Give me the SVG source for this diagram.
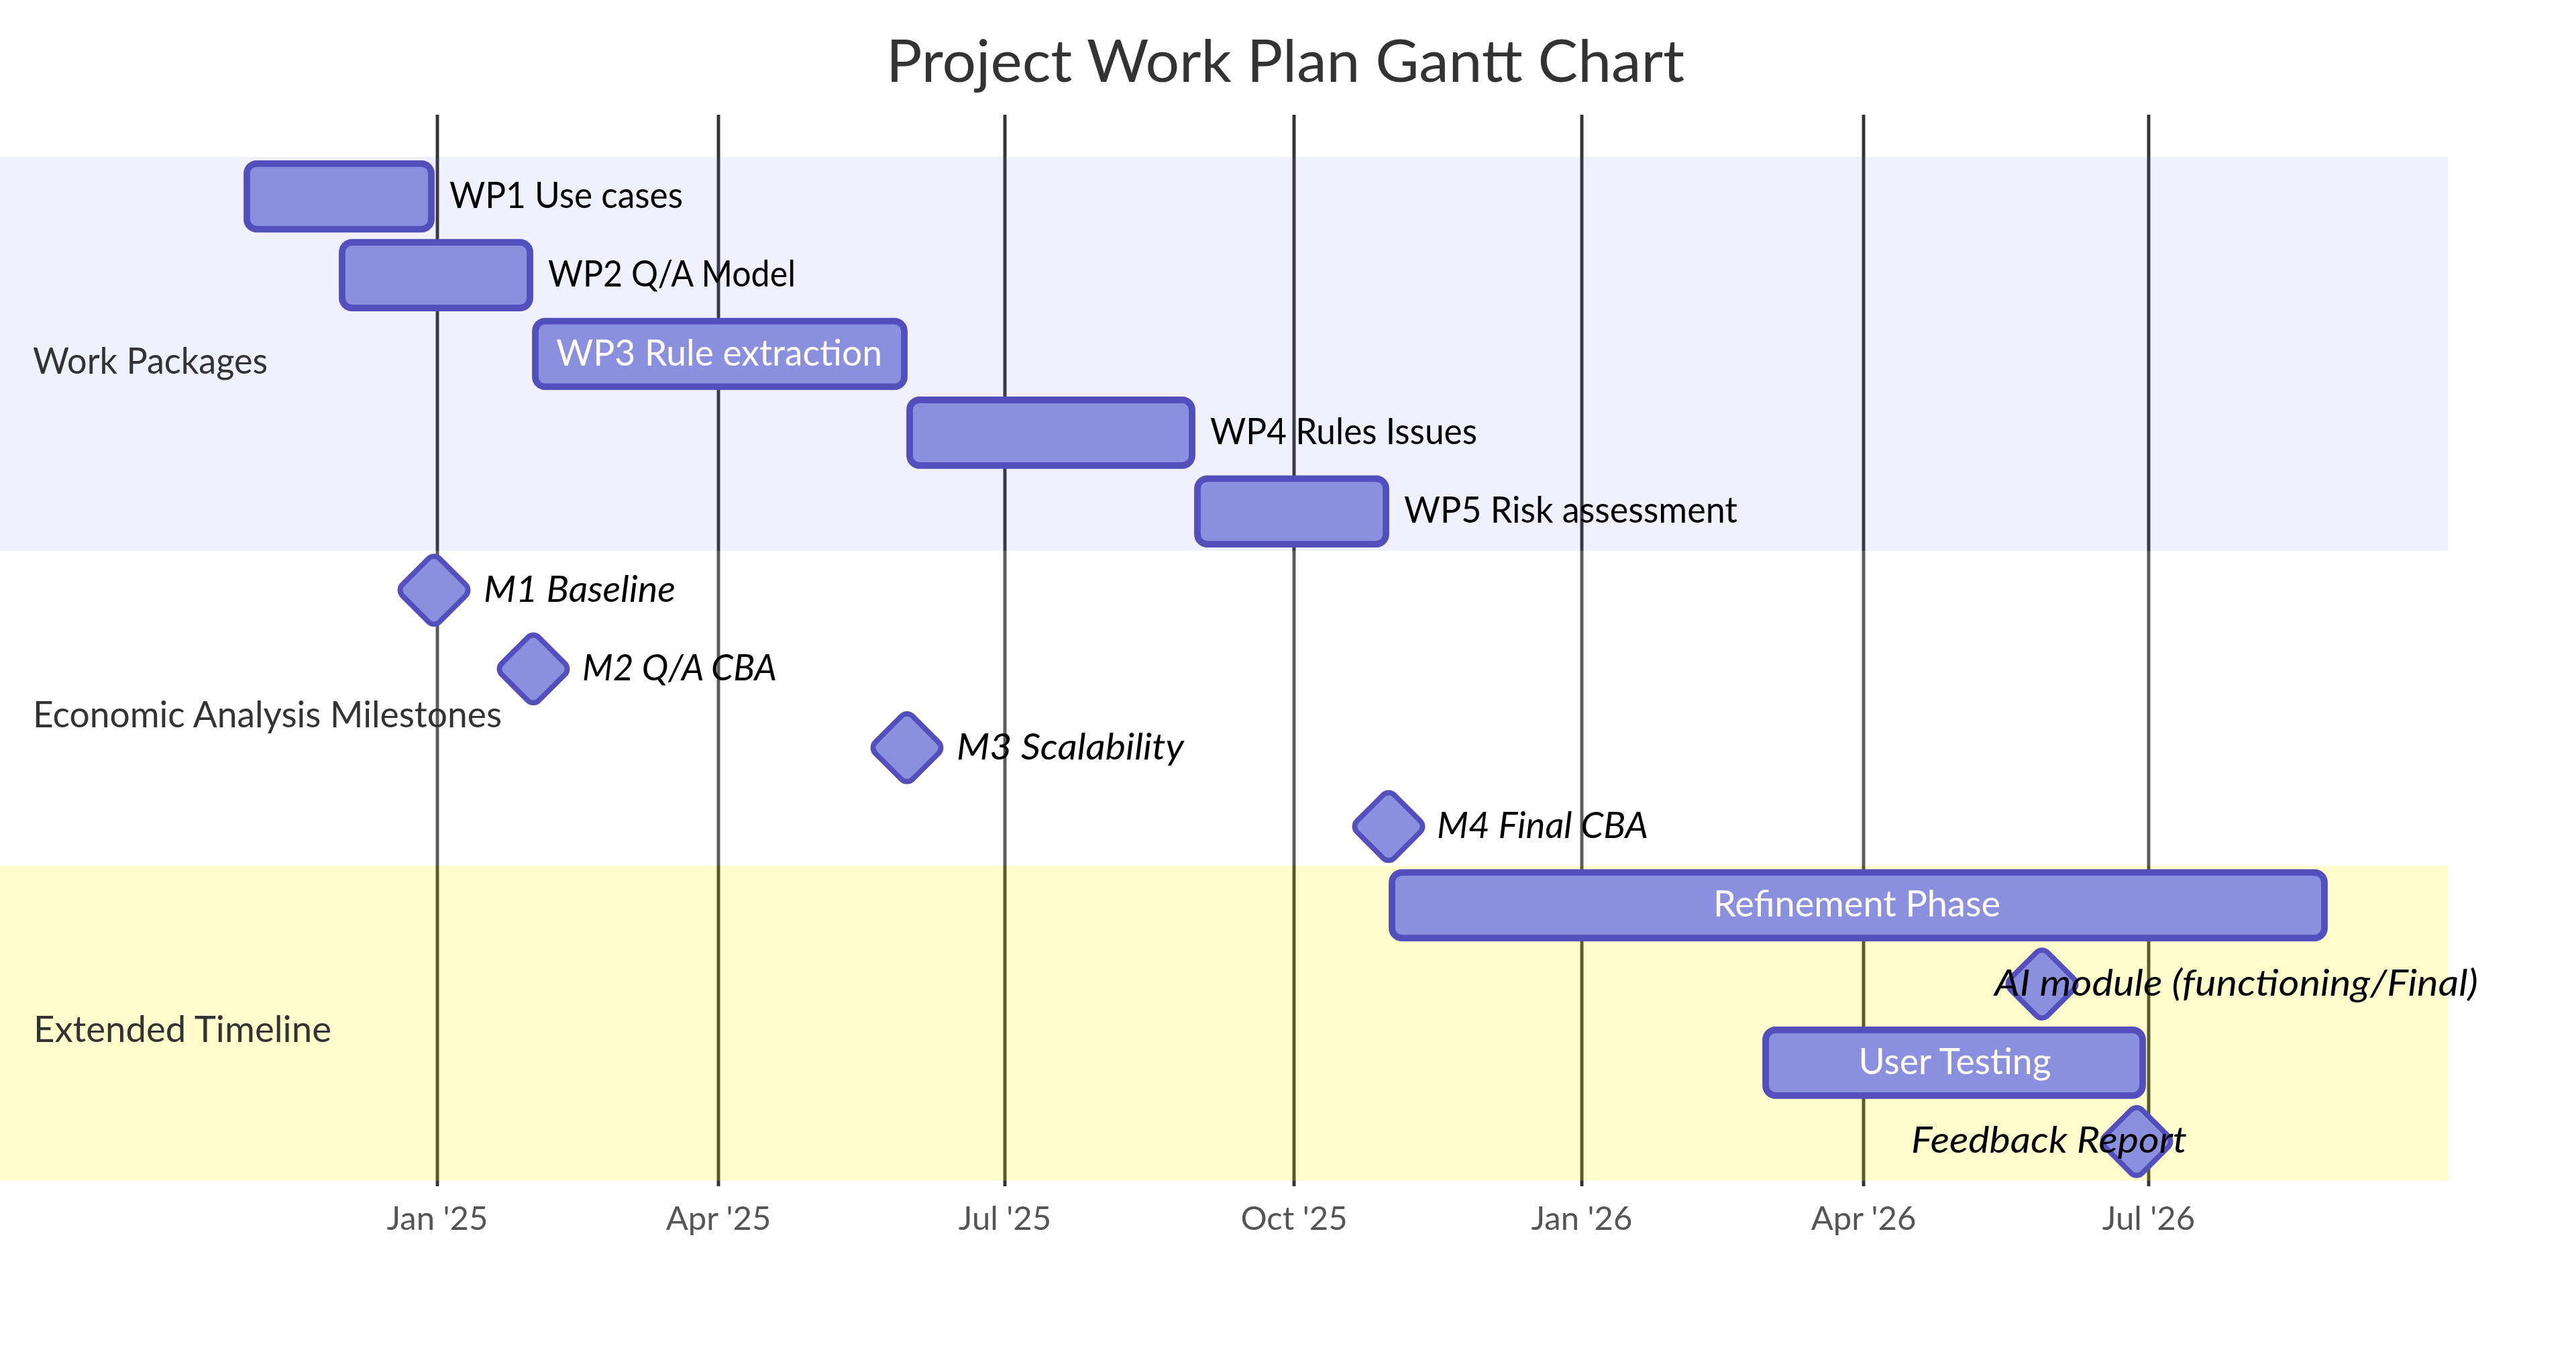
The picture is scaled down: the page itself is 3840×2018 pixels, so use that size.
<svg xmlns="http://www.w3.org/2000/svg" width="3840" height="2018" viewBox="0 0 3840 2018">
<style>
  .bg { fill: #ffffff; }
  .grid line { stroke: #333333; stroke-width: 4.9; }
  .tick { font-family: "Lato", "Open Sans", sans-serif; font-size: 49px; fill: #555555; text-anchor: middle; }
  .sec0 { fill: rgba(102,102,255,0.49); opacity: 0.2; }
  .sec1 { fill: #ffffff; opacity: 0.2; }
  .sec2 { fill: #fff400; opacity: 0.2; }
  .task { fill: #8a90dd; stroke: #534fbc; stroke-width: 9.8; }
  .ms { fill: #8a90dd; stroke: #534fbc; stroke-width: 7.8; }
  .lbl { font-family: "Lato", "Open Sans", sans-serif; font-size: 53.8px; }
  .out { fill: #000000; }
  .in { fill: #ffffff; text-anchor: middle; }
  .it { font-style: italic; }
  .sect { font-family: "Lato", "Open Sans", sans-serif; font-size: 53.8px; fill: #333333; }
  .title { font-family: "Lato", "Open Sans", sans-serif; font-size: 88px; fill: #333333; text-anchor: middle; }
</style>
<rect class="bg" x="0" y="0" width="3840" height="2018"/>

<g id="grid" class="grid">
  <line x1="652" y1="171" x2="652" y2="1768"/>
  <line x1="1071" y1="171" x2="1071" y2="1768"/>
  <line x1="1498" y1="171" x2="1498" y2="1768"/>
  <line x1="1929" y1="171" x2="1929" y2="1768"/>
  <line x1="2358" y1="171" x2="2358" y2="1768"/>
  <line x1="2778" y1="171" x2="2778" y2="1768"/>
  <line x1="3203" y1="171" x2="3203" y2="1768"/>
  <text class="tick" x="652" y="1833">Jan '25</text>
  <text class="tick" x="1071" y="1833">Apr '25</text>
  <text class="tick" x="1498" y="1833">Jul '25</text>
  <text class="tick" x="1929" y="1833">Oct '25</text>
  <text class="tick" x="2358" y="1833">Jan '26</text>
  <text class="tick" x="2778" y="1833">Apr '26</text>
  <text class="tick" x="3203" y="1833">Jul '26</text>
</g>

<g id="sections">
  <rect class="sec0" x="0" y="234" width="3649" height="586.9"/>
  <rect class="sec1" x="0" y="820.9" width="3649" height="469.6"/>
  <rect class="sec2" x="0" y="1290.5" width="3649" height="469.5"/>
</g>

<g id="wp1">
  <rect class="task" x="368" y="243.8" width="275" height="97.8" rx="14.7" ry="14.7"/>
  <text class="lbl out" x="670" y="309.8" textLength="348" lengthAdjust="spacingAndGlyphs">WP1 Use cases</text>
</g>
<g id="wp2">
  <rect class="task" x="510" y="361.2" width="280" height="97.8" rx="14.7" ry="14.7"/>
  <text class="lbl out" x="817" y="427.2" textLength="369" lengthAdjust="spacingAndGlyphs">WP2 Q/A Model</text>
</g>
<g id="wp3">
  <rect class="task" x="798" y="478.6" width="550" height="97.8" rx="14.7" ry="14.7"/>
  <text class="lbl in" x="1072" y="544.6" textLength="486" lengthAdjust="spacingAndGlyphs">WP3 Rule extraction</text>
</g>
<g id="wp4">
  <rect class="task" x="1356" y="596" width="421" height="97.8" rx="14.7" ry="14.7"/>
  <text class="lbl out" x="1804" y="662" textLength="398" lengthAdjust="spacingAndGlyphs">WP4 Rules Issues</text>
</g>
<g id="wp5">
  <rect class="task" x="1785" y="713.3" width="281" height="97.8" rx="14.7" ry="14.7"/>
  <text class="lbl out" x="2093" y="779.3" textLength="497" lengthAdjust="spacingAndGlyphs">WP5 Risk assessment</text>
</g>

<g id="m1">
  <rect class="ms" x="607.85" y="840.45" width="78.3" height="78.3" rx="11.7" ry="11.7" transform="rotate(45 647 879.6)"/>
  <text class="lbl out it" x="721" y="896.7" textLength="286" lengthAdjust="spacingAndGlyphs">M1 Baseline</text>
</g>
<g id="m2">
  <rect class="ms" x="755.85" y="957.85" width="78.3" height="78.3" rx="11.7" ry="11.7" transform="rotate(45 795 997)"/>
  <text class="lbl out it" x="868" y="1014.1" textLength="290" lengthAdjust="spacingAndGlyphs">M2 Q/A CBA</text>
</g>
<g id="m3">
  <rect class="ms" x="1312.85" y="1075.25" width="78.3" height="78.3" rx="11.7" ry="11.7" transform="rotate(45 1352 1114.4)"/>
  <text class="lbl out it" x="1426" y="1131.5" textLength="339" lengthAdjust="spacingAndGlyphs">M3 Scalability</text>
</g>
<g id="m4">
  <rect class="ms" x="2030.85" y="1192.65" width="78.3" height="78.3" rx="11.7" ry="11.7" transform="rotate(45 2070 1231.8)"/>
  <text class="lbl out it" x="2142" y="1248.9" textLength="315" lengthAdjust="spacingAndGlyphs">M4 Final CBA</text>
</g>

<g id="refinement">
  <rect class="task" x="2075" y="1300.3" width="1390" height="97.8" rx="14.7" ry="14.7"/>
  <text class="lbl in" x="2768" y="1366.3" textLength="428" lengthAdjust="spacingAndGlyphs">Refinement Phase</text>
</g>
<g id="ai-module">
  <rect class="ms" x="3004.85" y="1427.45" width="78.3" height="78.3" rx="11.7" ry="11.7" transform="rotate(45 3044 1466.6)"/>
  <text class="lbl out it" x="2973" y="1483.7" textLength="721" lengthAdjust="spacingAndGlyphs">AI module (functioning/Final)</text>
</g>
<g id="user-testing">
  <rect class="task" x="2632" y="1535" width="562" height="97.8" rx="14.7" ry="14.7"/>
  <text class="lbl in" x="2914" y="1601" textLength="287" lengthAdjust="spacingAndGlyphs">User Testing</text>
</g>
<g id="feedback-report">
  <rect class="ms" x="3145.85" y="1662.15" width="78.3" height="78.3" rx="11.7" ry="11.7" transform="rotate(45 3185 1701.3)"/>
  <text class="lbl out it" x="2849" y="1718.4" textLength="411" lengthAdjust="spacingAndGlyphs">Feedback Report</text>
</g>

<g id="section-labels">
  <text class="sect" x="49" y="557" textLength="350" lengthAdjust="spacingAndGlyphs">Work Packages</text>
  <text class="sect" x="49" y="1084" textLength="699" lengthAdjust="spacingAndGlyphs">Economic Analysis Milestones</text>
  <text class="sect" x="50" y="1553" textLength="444" lengthAdjust="spacingAndGlyphs">Extended Timeline</text>
</g>

<g id="title">
  <text class="title" x="1916" y="122" textLength="1190" lengthAdjust="spacingAndGlyphs">Project Work Plan Gantt Chart</text>
</g>
</svg>
